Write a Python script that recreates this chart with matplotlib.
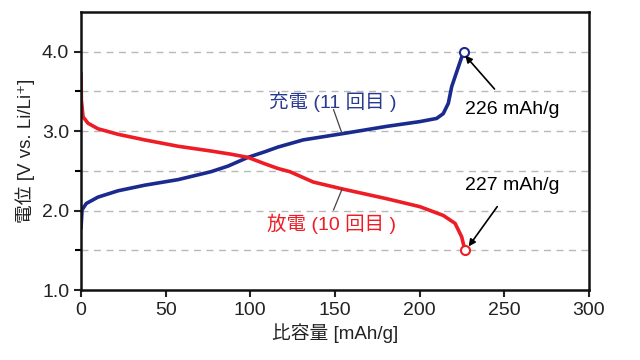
import numpy as np
import matplotlib
matplotlib.use('Agg')
import matplotlib.pyplot as plt

# Fonts: latin in Liberation Sans, japanese falls back to Noto Sans CJK JP
plt.rcParams['font.family'] = ['Liberation Sans', 'Noto Sans CJK JP', 'DejaVu Sans']

# Charge curve (11th cycle)
charge_cap = [0, 0.6, 3.1, 10, 21.9, 37.6, 57.3, 76.8, 86.8, 98.6, 108.5, 116.4, 131.3,
              155, 180.6, 200.2, 210.1, 214, 217, 219, 222.5, 226]
charge_v = [1.78, 2.01, 2.09, 2.17, 2.25, 2.32, 2.39, 2.49, 2.56, 2.67, 2.74, 2.80, 2.89,
            2.97, 3.06, 3.12, 3.16, 3.22, 3.35, 3.56, 3.78, 4.0]

# Discharge curve (10th cycle)
discharge_cap = [0, 0.2, 1.2, 4.1, 10, 21.9, 37.6, 57.3, 76.8, 88.6, 98.6, 108.5, 116.4, 123.4,
                 137.2, 155, 180.6, 200.2, 214, 221, 224.9, 226.8]
discharge_v = [3.73, 3.39, 3.18, 3.10, 3.03, 2.96, 2.89, 2.81, 2.75, 2.71, 2.67, 2.59, 2.53, 2.49,
               2.36, 2.27, 2.15, 2.05, 1.94, 1.84, 1.67, 1.50]

blue = '#1b2a8e'
red = '#ee1c25'

fig = plt.figure(figsize=(6.4, 3.6), dpi=100)
ax = fig.add_axes([0.1266, 0.194, 0.7934, 0.773])

for y in [1.5, 2.0, 2.5, 3.0, 3.5, 4.0]:
    ax.axhline(y, color='#b8b8b8', lw=1.0, ls=(0, (5, 4)), zorder=0)

ax.plot(charge_cap, charge_v, color=blue, lw=2.6, solid_capstyle='round', solid_joinstyle='round')
ax.plot(discharge_cap, discharge_v, color=red, lw=2.6, solid_capstyle='round', solid_joinstyle='round')
ax.plot(charge_cap[-1], charge_v[-1], 'o', mfc='white', mec=blue, ms=6.5, mew=1.5)
ax.plot(discharge_cap[-1], discharge_v[-1], 'o', mfc='white', mec=red, ms=6.5, mew=1.5)

ax.set_xlim(0, 300)
ax.set_ylim(1.0, 4.5)
ax.set_xticks(np.arange(0, 301, 50))
ax.set_yticks([1.0, 2.0, 3.0, 4.0])
ax.set_yticks([1.5, 2.5, 3.5], minor=True)
ax.set_yticklabels(['1.0', '2.0', '3.0', '4.0'])
ax.tick_params(axis='both', which='major', direction='out', length=5, width=1.5, labelsize=14, colors='#222222')
ax.tick_params(axis='y', which='minor', direction='out', length=4, width=1.5)
for s in ax.spines.values():
    s.set_linewidth(1.8)
    s.set_color('#111111')

ax.set_xlabel('比容量 [mAh/g]', fontsize=13.5, color='#222222', labelpad=3)
ax.set_ylabel('電位 [V vs. Li/Li⁺]', fontsize=13.5, color='#222222', labelpad=5)

# curve labels with thin pointer lines
ax.text(149, 3.37, '充電 (11 回目 )', color='#2a3a90', fontsize=14, ha='center', va='center')
ax.plot([149.2, 154.2], [3.27, 2.97], color='#444444', lw=0.9)
ax.text(148, 1.84, '放電 (10 回目 )', color=red, fontsize=14, ha='center', va='center')
ax.plot([149.2, 154.2], [2.01, 2.27], color='#444444', lw=0.9)

# capacity annotations
ax.annotate('226 mAh/g', xy=(227, 3.95), xytext=(255, 3.27), fontsize=14, ha='center', va='center',
            arrowprops=dict(arrowstyle='-|>', color='black', lw=1.2, shrinkA=9, shrinkB=0, mutation_scale=10))
ax.annotate('227 mAh/g', xy=(229, 1.55), xytext=(255, 2.32), fontsize=14, ha='center', va='center',
            arrowprops=dict(arrowstyle='-|>', color='black', lw=1.2, shrinkA=9, shrinkB=0, mutation_scale=10))

fig.savefig('out.png', dpi=100, facecolor='white')
